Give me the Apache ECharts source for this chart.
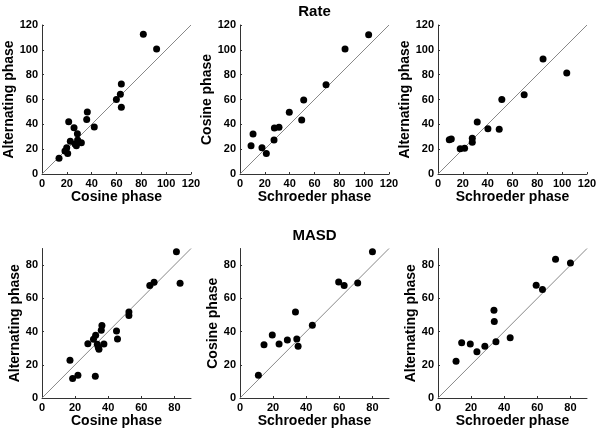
<!DOCTYPE html>
<html><head><meta charset="utf-8">
<script src="https://cdn.jsdelivr.net/npm/echarts@6/dist/echarts.min.js"></script>
<style>html,body{margin:0;padding:0;background:#fff}#c{width:601px;height:433px}</style>
</head><body><div id="c"></div>
<script>
// Rate panels
const rateCosX = [13.7,18.5,19.9,20.7,21.5,22.8,25.8,26.6,27.7,28.5,28.7,31.7,36.0,36.5,42.1,59.9,63.1,63.9,63.9,81.6,92.3];
const rateAltY = [12.6,18.5,21.2,16.6,42.1,26.3,37.3,24.2,22.8,32.5,27.4,25.2,43.8,49.9,37.9,59.9,64.2,72.5,53.7,112.5,100.7];
const rateSchX = [8.9,10.5,17.7,21.2,27.4,27.7,31.4,39.7,49.7,51.3,69.3,84.6,103.6];
const rateCosY = [22.8,32.2,21.2,16.6,27.4,37.0,37.6,49.7,43.5,59.6,71.9,100.7,112.2];
const rateSchX3 = [9.1,10.7,17.9,21.4,27.6,27.6,31.6,40.2,49.3,51.4,69.4,84.6,103.7];
const rateAltY3 = [27.6,28.2,20.4,20.7,25.5,28.7,41.9,36.5,36.0,59.9,63.9,92.6,81.3];
// MASD panels
const masdCosX = [16.9,18.5,21.7,27.7,31.1,32.4,32.2,33.4,34.0,34.4,35.8,36.2,37.4,45.0,45.6,52.5,52.5,65.1,67.7,81.2,83.4];
const masdAltY = [22.7,11.8,13.7,32.7,35.3,37.8,13.1,32.3,30.5,29.3,40.8,43.6,32.5,40.4,35.5,51.8,49.6,67.7,69.7,88.0,69.1];
const masdSchX = [11.1,14.5,19.5,23.6,28.6,33.5,34.3,35.1,43.7,59.6,62.9,71.1,80.0];
const masdCosY = [13.7,32.1,38.0,32.5,34.9,51.8,35.5,31.1,43.8,69.9,67.7,69.3,88.0];
const masdSchX3 = [10.9,14.3,19.5,23.5,28.3,33.8,34.0,35.0,43.6,59.3,63.1,71.0,80.0];
const masdAltY3 = [22.1,33.3,32.5,27.9,31.1,52.8,46.0,33.9,36.3,67.9,65.3,83.5,81.3];

const rateMax = 120, masdMax = 90, tickStep = 20;
const titles = ["Rate", "MASD"];
const xNames = ["Cosine phase", "Schroeder phase", "Schroeder phase"];
const yNames = ["Alternating phase", "Cosine phase", "Alternating phase"];

const panels = [
  {x: rateCosX, y: rateAltY, max: rateMax},
  {x: rateSchX, y: rateCosY, max: rateMax},
  {x: rateSchX3, y: rateAltY3, max: rateMax},
  {x: masdCosX, y: masdAltY, max: masdMax},
  {x: masdSchX, y: masdCosY, max: masdMax},
  {x: masdSchX3, y: masdAltY3, max: masdMax}
];

const lefts = [42, 240, 438];
const font = "'Liberation Sans', Arial, sans-serif";
const grid = [], xAxis = [], yAxis = [], series = [];
panels.forEach((p, i) => {
  const row = Math.floor(i / 3), col = i % 3;
  grid.push(row === 0
    ? {left: lefts[col], width: 149, top: 25, height: 149}
    : {left: lefts[col], width: 149, top: 248.5, height: 149.5});
  const axisCommon = {
    min: 0, max: p.max, interval: tickStep, gridIndex: i,
    axisLine: {show: true, lineStyle: {color: '#333', width: 1}},
    axisTick: {show: true, inside: true, length: 2, lineStyle: {color: '#333'}},
    splitLine: {show: false},
    axisLabel: {color: '#000', fontFamily: font, fontWeight: 'bold', fontSize: 11, margin: 4, showMaxLabel: p.max % tickStep === 0},
    nameLocation: 'middle',
    nameTextStyle: {color: '#000', fontFamily: font, fontWeight: 'bold', fontSize: 14}
  };
  xAxis.push(Object.assign({}, axisCommon, {type: 'value', name: xNames[col], nameGap: 16}));
  yAxis.push(Object.assign({}, axisCommon, {type: 'value', name: yNames[col], nameGap: 19}));
  series.push({
    type: 'line', xAxisIndex: i, yAxisIndex: i, data: [[0, 0], [p.max, p.max]],
    symbol: 'none', lineStyle: {color: '#888', width: 1}, silent: true, z: 1
  });
  series.push({
    type: 'scatter', xAxisIndex: i, yAxisIndex: i,
    data: p.x.map((v, k) => [v, p.y[k]]),
    symbol: 'circle', symbolSize: 7, itemStyle: {color: '#000', opacity: 1}, z: 2
  });
});

const chart = echarts.init(document.getElementById('c'), null, {renderer: 'canvas'});
chart.setOption({
  animation: false,
  backgroundColor: '#fff',
  title: [
    {text: titles[0], left: 314.5, textAlign: 'center', top: 4, padding: 0, textStyle: {fontFamily: font, fontWeight: 'bold', fontSize: 15, color: '#000'}},
    {text: titles[1], left: 314.5, textAlign: 'center', top: 228.5, padding: 0, textStyle: {fontFamily: font, fontWeight: 'bold', fontSize: 15, color: '#000'}}
  ],
  grid, xAxis, yAxis, series
});
</script></body></html>
